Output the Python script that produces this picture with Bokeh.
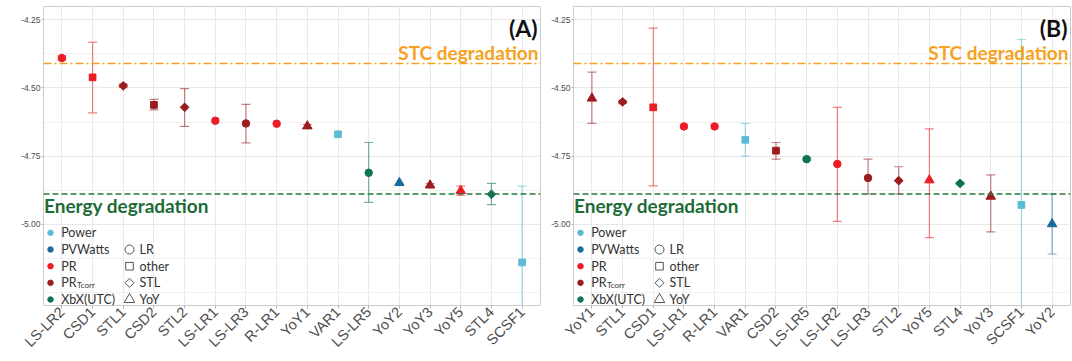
import math
from bokeh.plotting import figure
from bokeh.models import (ColumnDataSource, FactorRange, Range1d, FixedTicker, Label,
                          Span, PrintfTickFormatter)
from bokeh.layouts import row
from bokeh.embed import file_html
from bokeh.resources import INLINE

nan = float("nan")

# ---------------- data ----------------
metric_names = ["Power", "PVWatts", "PR", "PR_Tcorr", "XbX(UTC)"]
metric_colors = ["#5bbcd6", "#1b6a9c", "#ed1c24", "#9c1c1f", "#0f7358"]
method_names = ["LR", "other", "STL", "YoY"]

# methodology -> metric / method (order of panel A)
methodologies = ["LS-LR2", "CSD1", "STL1", "CSD2", "STL2", "LS-LR1", "LS-LR3", "R-LR1",
                 "YoY1", "VAR1", "LS-LR5", "YoY2", "YoY3", "YoY5", "STL4", "SCSF1"]
metric_of = ["PR", "PR", "PR_Tcorr", "PR_Tcorr", "PR_Tcorr", "PR", "PR_Tcorr", "PR",
             "PR_Tcorr", "Power", "XbX(UTC)", "PVWatts", "PR_Tcorr", "PR", "XbX(UTC)", "Power"]
method_of = ["LR", "other", "STL", "other", "STL", "LR", "LR", "LR",
             "YoY", "other", "LR", "YoY", "YoY", "YoY", "STL", "other"]

# Panel A
a_labels = ["LS-LR2", "CSD1", "STL1", "CSD2", "STL2", "LS-LR1", "LS-LR3", "R-LR1",
            "YoY1", "VAR1", "LS-LR5", "YoY2", "YoY3", "YoY5", "STL4", "SCSF1"]
a_plr = [-4.390, -4.461, -4.492, -4.562, -4.571, -4.620, -4.630, -4.631,
         -4.640, -4.670, -4.811, -4.848, -4.857, -4.877, -4.890, -5.140]
a_lo = [-4.398, -4.591, -4.499, -4.580, -4.641, nan, -4.701, nan,
        -4.646, nan, -4.920, nan, -4.863, -4.894, -4.928, -5.420]
a_hi = [-4.382, -4.332, -4.485, -4.542, -4.502, nan, -4.560, nan,
        -4.634, nan, -4.700, nan, -4.851, -4.860, -4.850, -4.860]

# Panel B
b_labels = ["YoY1", "STL1", "CSD1", "LS-LR1", "R-LR1", "VAR1", "CSD2", "LS-LR5",
            "LS-LR2", "LS-LR3", "STL2", "YoY5", "STL4", "YoY3", "SCSF1", "YoY2"]
b_plr = [-4.538, -4.551, -4.571, -4.641, -4.641, -4.690, -4.730, -4.761,
         -4.779, -4.830, -4.840, -4.838, -4.850, -4.898, -4.929, -4.999]
b_lo = [-4.630, -4.557, -4.859, nan, nan, -4.750, -4.761, -4.765,
        -4.989, -4.889, -4.889, -5.049, -4.855, -5.028, -5.536, -5.109]
b_hi = [-4.442, -4.545, -4.280, nan, nan, -4.630, -4.700, -4.757,
        -4.571, -4.761, -4.789, -4.650, -4.845, -4.819, -4.322, -4.889]

stc_degradation = -4.410
energy_degradation = -4.889

y_ticks = [-5.0, -4.75, -4.5, -4.25]
y_minor = [-5.25, -5.125, -4.875, -4.625, -4.375]

# ---------------- styles / layout ----------------
color_of = dict(zip(metric_names, metric_colors))
marker_style = {"LR": ("circle", 7.5, 0.0), "other": ("square", 6.7, 0.0),
                "STL": ("square", 6.2, math.pi / 4), "YoY": ("triangle", 9.5, 0.0)}
legend_shape = {"LR": ("circle", 9.0, 0.0), "other": ("square", 7.6, 0.0),
                "STL": ("square", 6.4, math.pi / 4), "YoY": ("triangle", 10.5, 0.0)}
m_metric = dict(zip(methodologies, metric_of))
m_method = dict(zip(methodologies, method_of))

FRAME_W = 497
FRAME_H = 299
PAD = 0.1                     # factor-range padding (category units, each side)
AX_FONT = "Liberation Sans"
TXT_FONT = "Lato"
LEG_ROWS = [72.7, 56.0, 39.3, 22.7, 6.0]   # legend row centres, px above frame bottom


def make_panel(labels, plr, lo, hi, tag, width, left, right, ylab_x):
    n = len(labels)
    span_units = n + 2 * PAD

    def px_x(px):  # frame pixel -> categorical offset coordinate
        return (labels[0], -0.5 - PAD + px * span_units / FRAME_W)

    cols = [color_of[m_metric[l]] for l in labels]
    src = ColumnDataSource(dict(
        x=labels, y=plr, lo=lo, hi=hi, color=cols,
        marker=[marker_style[m_method[l]][0] for l in labels],
        size=[marker_style[m_method[l]][1] for l in labels],
        angle=[marker_style[m_method[l]][2] for l in labels],
    ))
    p = figure(width=width, height=361, output_backend="svg", toolbar_location=None,
               x_range=FactorRange(factors=labels, range_padding=PAD, range_padding_units="absolute"),
               y_range=Range1d(-5.298, -4.201),
               min_border_left=left, min_border_right=right, min_border_top=6, min_border_bottom=56)
    p.extra_y_ranges = {"px": Range1d(0, FRAME_H)}
    p.background_fill_color = "white"
    p.border_fill_color = "white"
    p.outline_line_color = "#cccccc"
    p.outline_line_width = 1

    # grids
    p.xgrid.grid_line_color = "#e9e9e9"
    p.ygrid.grid_line_color = "#e9e9e9"
    p.ygrid.minor_grid_line_color = "#f1f1f1"

    # axes
    p.yaxis.ticker = FixedTicker(ticks=y_ticks, minor_ticks=y_minor)
    p.yaxis.formatter = PrintfTickFormatter(format="%.2f")
    for ax in (p.xaxis[0], p.yaxis[0]):
        ax.axis_line_color = None
        ax.major_tick_in = 0
        ax.minor_tick_in = 0
        ax.minor_tick_out = 0
        ax.major_tick_line_color = "#b3b3b3"
        ax.major_label_text_font = AX_FONT
        ax.major_label_text_color = "#4d4d4d"
    p.yaxis.major_tick_out = 2
    p.yaxis.major_label_standoff = 1
    p.yaxis.major_label_text_font_size = "8.5px"
    p.xaxis.major_tick_out = 3
    p.xaxis.major_label_standoff = 1
    p.xaxis.major_label_text_font_size = "14.5px"
    p.xaxis.major_label_orientation = math.pi / 4

    # axis titles
    p.add_layout(Label(x=ylab_x, y=FRAME_H / 2, x_units="screen", y_units="screen",
                       text="PLR [%/a]", angle=math.pi / 2, text_align="center",
                       text_baseline="middle", text_font=AX_FONT, text_font_size="11px",
                       text_color="#333333"))
    p.add_layout(Label(x=FRAME_W / 2, y=-47, x_units="screen", y_units="screen",
                       text="Metrics & Methodologies", text_align="center",
                       text_baseline="middle", text_font=AX_FONT, text_font_size="11px",
                       text_color="#333333"))

    # reference lines
    p.add_layout(Span(location=stc_degradation, dimension="width", line_color="#f2a127",
                      line_width=1.5, line_dash="8 3 2 3"))
    p.add_layout(Span(location=energy_degradation, dimension="width", line_color="#2e7a42",
                      line_width=1.5, line_dash="6 3"))

    # error bars
    p.segment(x0="x", y0="lo", x1="x", y1="hi", line_color="color", line_alpha=0.55,
              line_width=1.2, source=src)
    p.scatter(x="x", y="hi", marker="dash", size=9, line_color="color", line_alpha=0.55,
              line_width=1.2, source=src)
    p.scatter(x="x", y="lo", marker="dash", size=9, line_color="color", line_alpha=0.55,
              line_width=1.2, source=src)
    # points
    p.scatter(x="x", y="y", marker="marker", size="size", angle="angle",
              fill_color="color", line_color="color", source=src)

    # texts
    p.add_layout(Label(x=FRAME_W - 2, y=stc_degradation, x_units="screen", y_units="data",
                       y_offset=10.5, text="STC degradation", text_align="right",
                       text_baseline="alphabetic", text_font=TXT_FONT, text_font_size="19px",
                       text_font_style="bold", text_color="#f7a21e"))
    p.add_layout(Label(x=0.5, y=energy_degradation, x_units="screen", y_units="data",
                       y_offset=-11.5, text="Energy degradation", text_align="left",
                       text_baseline="alphabetic", text_font=TXT_FONT, text_font_size="19px",
                       text_font_style="bold", text_color="#1d6b36"))
    p.add_layout(Label(x=FRAME_W - 3, y=278, x_units="screen", y_units="screen",
                       text=tag, text_align="right", text_baseline="alphabetic",
                       text_font=TXT_FONT, text_font_size="23px", text_font_style="bold",
                       text_color="#111111"))

    # legend: metric colours
    p.scatter(x=[px_x(7)] * len(metric_names), y=LEG_ROWS, marker="circle", size=5.5,
              fill_color=metric_colors, line_color=metric_colors, y_range_name="px")
    for name, yy in zip(metric_names, LEG_ROWS):
        p.add_layout(Label(x=17.7, y=yy, x_units="screen", y_units="screen",
                           text="PR" if name == "PR_Tcorr" else name, text_align="left",
                           text_baseline="middle", text_font=TXT_FONT, text_font_size="12.5px",
                           text_color="#333333"))
        if name == "PR_Tcorr":
            p.add_layout(Label(x=33.5, y=yy - 2.5, x_units="screen", y_units="screen",
                               text="Tcorr", text_align="left", text_baseline="alphabetic",
                               text_font=TXT_FONT, text_font_size="8px", text_color="#333333"))
    # legend: method shapes
    p.scatter(x=[px_x(86)] * len(method_names), y=LEG_ROWS[1:],
              marker=[legend_shape[m][0] for m in method_names],
              size=[legend_shape[m][1] for m in method_names],
              angle=[legend_shape[m][2] for m in method_names],
              fill_color=None, line_color="#555555", line_width=1, y_range_name="px")
    for name, yy in zip(method_names, LEG_ROWS[1:]):
        p.add_layout(Label(x=96, y=yy, x_units="screen", y_units="screen", text=name,
                           text_align="left", text_baseline="middle", text_font=TXT_FONT,
                           text_font_size="12.5px", text_color="#333333"))
    return p


pa = make_panel(a_labels, a_plr, a_lo, a_hi, "(A)", 541, 43, 1, -31)
pb = make_panel(b_labels, b_plr, b_lo, b_hi, "(B)", 531, 32, 2, -28)

layout = row(pa, pb)
open("out.html", "w").write(file_html(layout, INLINE))
